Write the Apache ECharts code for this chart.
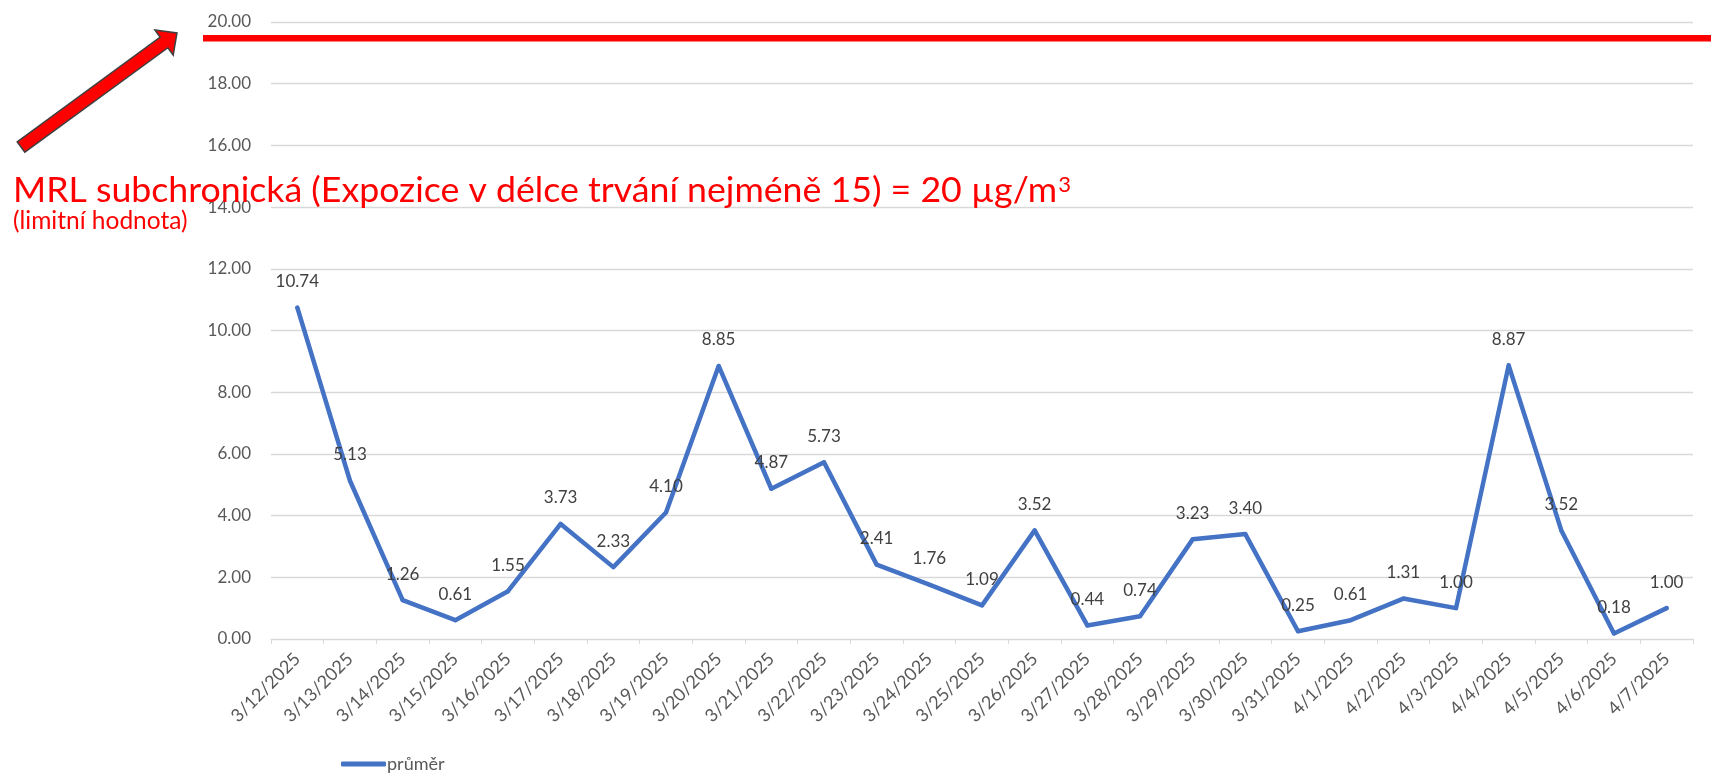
<!DOCTYPE html>
<html>
<head>
<meta charset="utf-8">
<title>MRL subchronická</title>
<script src="https://cdn.jsdelivr.net/npm/echarts@6/dist/echarts.min.js"></script>
<style>
  html, body { margin: 0; padding: 0; background: #fff; }
  #chart { width: 1711px; height: 775px; }
</style>
</head>
<body>
<div id="chart"></div>
<script>
// dny měření
var categories = ['3/12/2025', '3/13/2025', '3/14/2025', '3/15/2025', '3/16/2025', '3/17/2025',
  '3/18/2025', '3/19/2025', '3/20/2025', '3/21/2025', '3/22/2025', '3/23/2025', '3/24/2025',
  '3/25/2025', '3/26/2025', '3/27/2025', '3/28/2025', '3/29/2025', '3/30/2025', '3/31/2025',
  '4/1/2025', '4/2/2025', '4/3/2025', '4/4/2025', '4/5/2025', '4/6/2025', '4/7/2025'];

// průměr (µg/m3)
var prumer = [10.74, 5.13, 1.26, 0.61, 1.55, 3.73, 2.33, 4.10, 8.85, 4.87, 5.73, 2.41, 1.76,
  1.09, 3.52, 0.44, 0.74, 3.23, 3.40, 0.25, 0.61, 1.31, 1.00, 8.87, 3.52, 0.18, 1.00];

var seriesName = 'průměr';
var yMin = 0, yMax = 20, yStep = 2;

var titleText = 'MRL subchronická (Expozice v délce trvání nejméně 15) = 20 µg/m';
var supText = '3';
var subText = '(limitní hodnota)';

var font = 'Lato, "Liberation Sans", sans-serif';

var myChart = echarts.init(document.getElementById('chart'));

var option = {
  backgroundColor: '#fff',
  animation: false,
  textStyle: { fontFamily: font },
  grid: { left: 271, right: 18, top: 22, bottom: 136, containLabel: false },
  xAxis: {
    type: 'category',
    data: categories,
    boundaryGap: true,
    axisLine: { lineStyle: { color: '#d9d9d9', width: 1 } },
    axisTick: { show: true, length: 5, lineStyle: { color: '#d9d9d9' } },
    axisLabel: { rotate: 45, fontSize: 18, color: '#595959', margin: 17, fontFamily: font }
  },
  yAxis: {
    type: 'value',
    min: yMin,
    max: yMax,
    interval: yStep,
    axisLine: { show: false },
    axisTick: { show: false },
    splitLine: { lineStyle: { color: '#d9d9d9', width: 1.3 } },
    axisLabel: {
      fontSize: 17, color: '#595959', margin: 20, fontFamily: font,
      formatter: function (v) { return v.toFixed(2); }
    }
  },
  legend: {
    left: 336,
    top: 750,
    icon: 'roundRect',
    itemWidth: 45,
    itemHeight: 5,
    textStyle: { fontSize: 18, color: '#595959', fontFamily: font, padding: [0, 0, 0, -4] },
    data: [seriesName]
  },
  title: {
    left: 13,
    top: 172,
    padding: 0,
    text: '{t|' + titleText + '}{s|' + supText + '}',
    textStyle: {
      fontWeight: 'normal',
      rich: {
        t: { fontSize: 35.7, lineHeight: 36, color: '#ff0000', fontFamily: font },
        s: { fontSize: 22, lineHeight: 22, color: '#ff0000', fontFamily: font, verticalAlign: 'top', padding: [2, 0, 0, 1] }
      }
    },
    subtext: subText,
    itemGap: 1,
    subtextStyle: { fontSize: 24.5, lineHeight: 24, color: '#ff0000', fontFamily: font }
  },
  graphic: [
    {
      // čára limitní hodnoty
      type: 'line',
      z: 10,
      shape: { x1: 203, y1: 38.3, x2: 1711, y2: 38.3 },
      style: { stroke: '#ff0000', lineWidth: 6.5 }
    },
    {
      // šipka
      type: 'polygon',
      z: 10,
      shape: {
        points: [[17.2, 141.8], [160.2, 37.2], [154.9, 29.9], [177, 33], [173.2, 55.0], [167.9, 47.7], [24.8, 152.2]]
      },
      style: { fill: '#ff0000', stroke: '#404040', lineWidth: 1.5 }
    }
  ],
  series: [
    {
      name: seriesName,
      type: 'line',
      data: prumer,
      symbol: 'circle',
      symbolSize: 4,
      showSymbol: true,
      itemStyle: { color: '#4472c4' },
      lineStyle: { color: '#4472c4', width: 4.5, join: 'round', cap: 'round' },
      label: {
        show: true,
        position: 'top',
        distance: 14,
        fontSize: 17,
        lineHeight: 20,
        color: '#404040',
        fontFamily: font,
        formatter: function (p) { return p.value.toFixed(2); }
      }
    }
  ]
};

myChart.setOption(option);
</script>
</body>
</html>
